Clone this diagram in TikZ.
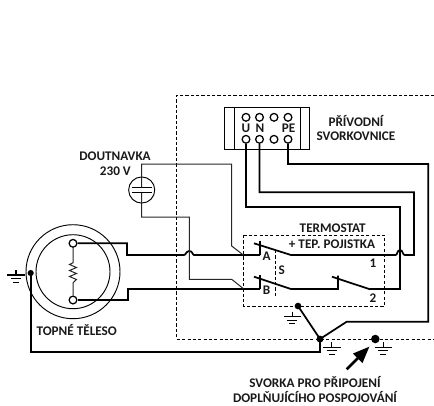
\documentclass[tikz,border=0pt]{standalone}
\usepackage{fontspec}
\setmainfont{Carlito}
\usetikzlibrary{calc}
\begin{document}
\begin{tikzpicture}[x=0.75pt,y=-0.75pt,
  thickw/.style={line width=1.3pt,line join=miter},
  thinw/.style={line width=0.75pt,black!85},
  dashb/.style={line width=0.65pt,dash pattern=on 2.4pt off 1.6pt},
  term/.style={circle,draw,line width=0.95pt,fill=white,inner sep=0pt,minimum size=5.8pt},
  dotn/.style={circle,fill=black,inner sep=0pt,minimum size=#1},
  lab/.style={font=\bfseries\fontsize{9.9pt}{11pt}\selectfont,inner sep=0pt,text=black!90},
  gnd/.pic={\draw[line width=0.85pt] (0,-5)--(0,0) (-8.8,0)--(8.8,0);
            \draw[line width=0.85pt] (-5,3.6)--(5,3.6) (-3,7.2)--(3,7.2);}
]
\useasboundingbox (0,0) rectangle (434,405);
% dashed boxes
\draw[dashb] (434,95.5)--(176.5,95.5)--(176.5,339)--(434,339);
\draw[dashb] (243.3,235) rectangle (384.7,306);
\draw[dashb] (275.3,250)--(275.3,297);
% terminal block
\draw[line width=0.7pt] (224.3,107.3) rectangle (309.3,149.3) (234,107.3)--(234,149.3) (300,107.3)--(300,149.3);
\node[term] (t1) at (246,117.3) {};
\node[term] (t2) at (259.5,117.3) {};
\node[term] (t3) at (274,117.3) {};
\node[term] (t4) at (288,117.3) {};
\node[term] (u) at (246,139.3) {};
\node[term] (n) at (259.5,139.3) {};
\node[term] (t7) at (274,139.3) {};
\node[term] (pe) at (288,139.3) {};
\node[lab] (lu) at (246,128.3) {U};
\node[lab] (ln) at (260,128.3) {N};
\node[lab] (lpe) at (288.5,128.3) {PE};
\node[lab] (l1) at (356,120.7) {PŘÍVODNÍ};
\node[lab] (l2) at (356,136.7) {SVORKOVNICE};
% junctions
\node[dotn=5.2pt] (j) at (320,339) {};
\node[dotn=5pt] (e) at (298,306) {};
\node[dotn=6.4pt] (k) at (375.3,339) {};
\node[dotn=4.6pt] (h) at (30.7,273) {};
% wires from terminals
\draw[thickw] (pe.south)--(288,164)--(428.3,164)--(428.3,321.7)--(346.7,321.7)--(j.center);
\draw[thickw] (n.south)--(259.5,192.3)--(414,192.3)--(414,255)--(404.7,255)
   .. controls (402.5,255) and (403,250) .. (400,250) .. controls (397,250) and (397.5,255) .. (395.7,255)
   --(291,255);
\draw[thickw] (u.south)--(246,206.7)--(399.7,206.7)--(399.7,289)--(370,289);
% contacts
\draw[thickw] (254,243.3)--(291,255);
\draw[thickw] (254,276.7)--(291,289)--(338,289)--(338,275.7);
\draw[thickw] (332,276.7)--(370,289.3);
\draw[thickw] (260,240.7)--(260,255);
\draw[thickw] (260,275)--(260,288.6);
% heater
\draw[line width=0.7pt] (73,271.7) circle (47);
\draw[line width=0.7pt] (73,271.7) circle (37);
\node[term] (ha) at (73,243.3) {};
\node[term] (hb) at (73,300) {};
\draw[thinw] (ha.south)--(73,262.7)--(69.5,264.5)--(76.5,267.5)--(69.5,270.5)--(76.5,273.5)--(69.5,276.5)--(76.5,279.5)--(73,282.7)--(hb.north);
\draw[thickw] (ha.east)--(127,243.3)--(127,255)--(184,255)
  .. controls (186,255) and (186,251) .. (189.3,251) .. controls (192.6,251) and (192.6,255) .. (194,255)--(260,255);
\draw[thickw] (hb.east)--(128,300)--(128,289)--(260,289);
\draw[thickw] (h.center)--(30.7,352)--(320,352)--(j.center);
\draw[thickw] (e.center)--(j.center);
% lamp
\node[circle,draw,line width=0.7pt,inner sep=0pt,minimum size=19.6pt] (lamp) at (141.7,190) {};
\draw[line width=0.85pt] (131.7,187.3)--(151.7,187.3) (131.7,192.7)--(151.7,192.7);
\draw[thinw] (141.7,187.3)--(141.7,164)--(231.7,164)--(231.7,246)--(243.3,255);
\draw[thinw] (141.7,192.7)--(141.7,217)--(189.3,217)--(189.3,279.3)--(231.7,279.3)--(243.3,288.6);
% grounds
\pic at (16,275) {gnd};
\pic at (292.3,316.7) {gnd};
\pic at (331.7,347.3) {gnd};
\pic at (383.3,347.3) {gnd};
% arrow
\draw[line width=2pt] (346.7,369.3)--(358,358);
\fill (369.3,346.7)--(353,353.5)--(362.5,363)--cycle;
% labels
\node[lab] (la) at (266.7,256) {A};
\node[lab] (lb) at (266.5,290.5) {B};
\node[lab] (ls) at (281.7,270) {S};
\node[lab] (n1) at (373,263) {1};
\node[lab] (n2) at (373,297.7) {2};
\node[lab] (th) at (332.7,228) {TERMOSTAT};
\node[lab] (tp) at (332,244) {+ TEP. POJISTKA};
\node[lab] (d1) at (115,156) {DOUTNAVKA};
\node[lab] (d2) at (115.3,171.7) {230 V};
\node[lab] (tt) at (76.7,330) {TOPNÉ TĚLESO};
\node[lab] (s1) at (315,382.3) {SVORKA PRO PŘIPOJENÍ};
\node[lab] (s2) at (315,396.7) {DOPLŇUJÍCÍHO POSPOJOVÁNÍ};
\end{tikzpicture}
\end{document}
